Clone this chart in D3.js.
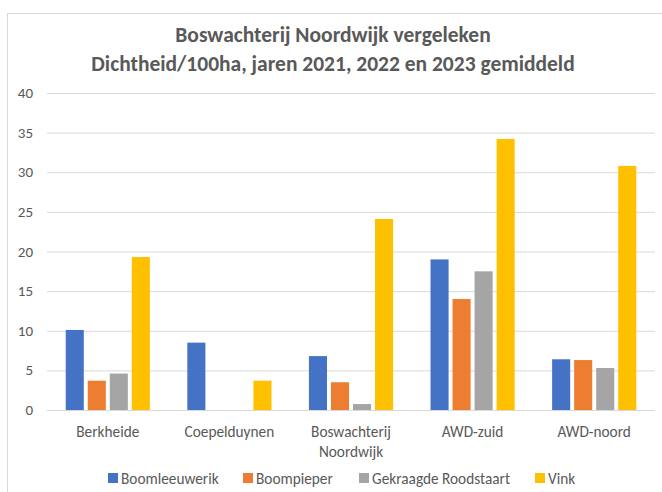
<!DOCTYPE html>
<html>
<head>
<meta charset="utf-8">
<script src="https://cdn.jsdelivr.net/npm/d3@7"></script>
<style>
body { margin: 0; background: #fff; }
text { font-family: Calibri, Carlito, "Open Sans", sans-serif; fill: #595959; }
</style>
</head>
<body>
<script>
var width = 662, height = 492;

var regions = ["Berkheide", "Coepelduynen", "Boswachterij Noordwijk", "AWD-zuid", "AWD-noord"];
var species = ["Boomleeuwerik", "Boompieper", "Gekraagde Roodstaart", "Vink"];
var colors = ["#4472c4", "#ed7d31", "#a5a5a5", "#ffc000"];
var boomleeuwerik = [10.1, 8.5, 6.8, 19.0, 6.4];
var boompieper = [3.7, 0, 3.5, 14.0, 6.3];
var roodstaart = [4.6, 0, 0.75, 17.5, 5.3];
var vink = [19.3, 3.7, 24.1, 34.2, 30.8];
var yTicks = [0, 5, 10, 15, 20, 25, 30, 35, 40];

var series = [boomleeuwerik, boompieper, roodstaart, vink];

var svg = d3.select("body").append("svg")
    .attr("width", width).attr("height", height);

// chart border
svg.append("rect")
    .attr("x", 7.5).attr("y", 13.5)
    .attr("width", 660).attr("height", 500)
    .attr("fill", "none").attr("stroke", "#d9d9d9");

var x = d3.scaleBand().domain(regions).range([47, 655]);
var xs = d3.scaleBand().domain(species).range([0, x.bandwidth()]).paddingInner(0.18).paddingOuter(0.85);
var y = d3.scaleLinear().domain([0, 40]).range([410, 93]);

// grid
svg.append("g").selectAll("line").data(yTicks).enter().append("line")
    .attr("x1", 47).attr("x2", 655)
    .attr("y1", function(d){ return y(d) + 0.5; })
    .attr("y2", function(d){ return y(d) + 0.5; })
    .attr("stroke", "#d9d9d9").attr("stroke-width", 1);

// y labels
svg.append("g").selectAll("text").data(yTicks).enter().append("text")
    .attr("x", 33).attr("y", function(d){ return y(d) + 5; })
    .attr("text-anchor", "end").style("font-size", "15px")
    .text(function(d){ return d; });

// bars
series.forEach(function(vals, i){
    svg.append("g").selectAll("rect").data(vals).enter().append("rect")
        .attr("x", function(d, j){ return x(regions[j]) + xs(species[i]); })
        .attr("width", xs.bandwidth())
        .attr("y", function(d){ return y(d); })
        .attr("height", function(d){ return y(0) - y(d); })
        .attr("fill", colors[i]);
});

// x labels
regions.forEach(function(r){
    var words = r === "Boswachterij Noordwijk" ? ["Boswachterij", "Noordwijk"] : [r];
    var t = svg.append("text")
        .attr("x", x(r) + x.bandwidth()/2)
        .attr("y", 437)
        .attr("text-anchor", "middle").style("font-size", "15.3px");
    words.forEach(function(w, k){
        t.append("tspan").attr("x", x(r) + x.bandwidth()/2).attr("dy", k ? 20 : 0).text(w);
    });
});

// title
var title = ["Boswachterij Noordwijk vergeleken", "Dichtheid/100ha, jaren 2021, 2022 en 2023 gemiddeld"];
title.forEach(function(t, i){
    svg.append("text")
        .attr("x", 333).attr("y", 42 + i*29)
        .attr("text-anchor", "middle")
        .style("font-size", "21.5px").style("font-weight", "bold")
        .text(t);
});

// legend
var legX = [108, 243, 359, 535];
species.forEach(function(s, i){
    svg.append("rect").attr("x", legX[i]).attr("y", 473).attr("width", 10).attr("height", 10)
        .attr("fill", colors[i]);
    svg.append("text").attr("x", legX[i] + 13).attr("y", 484)
        .style("font-size", "15.3px").text(s);
});
</script>
</body>
</html>
